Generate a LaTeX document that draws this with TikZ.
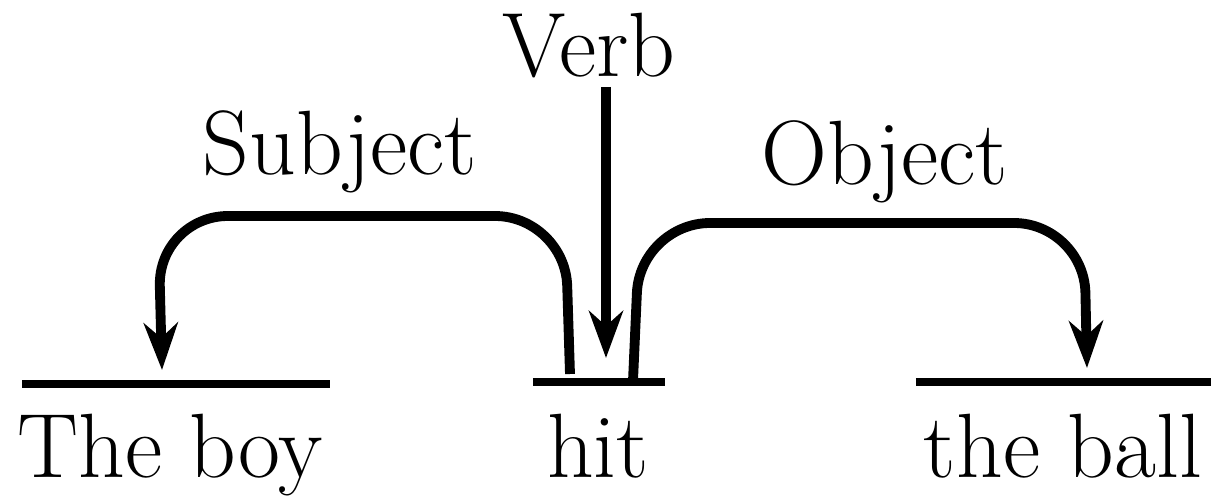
\documentclass[tikz,border=0pt]{standalone}
\usetikzlibrary{arrows.meta}

\begin{document}
\begin{tikzpicture}[
	word/.style={inner sep=0pt, anchor=base, font=\rmfamily\fontsize{26}{30}\selectfont},
	bar/.style={line width=2.2pt},
	link/.style={line width=2.8pt, rounded corners=0.7cm,
		-{Stealth[length=4.7mm, width=3.4mm, inset=1.5mm]}}]
	
	\useasboundingbox (0,0) rectangle (12.11,4.99);
	
	% ---- words ----
	\node[word] (boy)  at (1.70,0.21) {The boy};
	\node[word] (hit)  at (5.98,0.21) {hit};
	\node[word] (ball) at (10.63,0.21) {the ball};
	
	% ---- labels ----
	\node[word] (verb) at (5.89,4.22) {Verb};
	\node[word] (subj) at (3.40,3.24) {Subject};
	\node[word] (obj)  at (8.85,3.14) {Object};
	
	% ---- bars over the words ----
	\coordinate (boyL)  at (0.22,1.15);  \coordinate (boyR)  at (3.30,1.15);
	\coordinate (hitL)  at (5.33,1.17);  \coordinate (hitR)  at (6.65,1.17);
	\coordinate (ballL) at (9.16,1.17);  \coordinate (ballR) at (12.11,1.17);
	\draw[bar] (boyL) -- (boyR);
	\draw[bar] (hitL) -- (hitR);
	\draw[bar] (ballL) -- (ballR);
	
	% ---- arrow ends ----
	\coordinate (subjstart) at (5.70,1.25);
	\coordinate (objstart)  at (6.33,1.18);
	\coordinate (boytip)    at (1.62,1.29);
	\coordinate (balltip)   at (10.87,1.31);
	\coordinate (hittip)    at (6.06,1.41);
	
	\draw[link] (subjstart) -- (5.65,2.83) -- (1.58,2.83) -- (boytip);
	\draw[link] (objstart) -- (6.40,2.76) -- (10.84,2.76) -- (balltip);
	\draw[link] ([yshift=-0.1cm]verb.base -| hittip) -- (hittip);
	
\end{tikzpicture}
\end{document}
